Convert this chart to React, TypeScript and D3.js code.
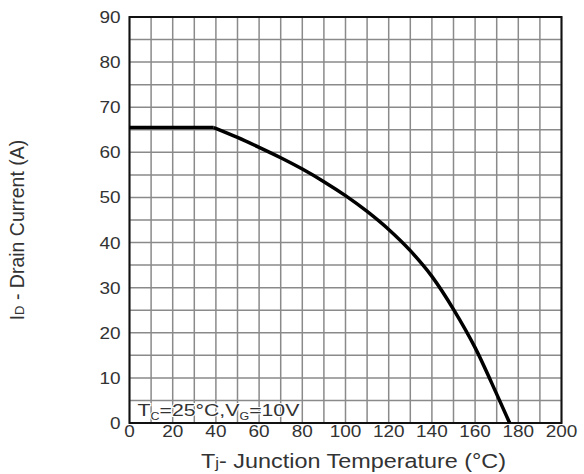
import React from "react";
import * as d3 from "d3";

const temps = [0, 39, 50, 60, 70, 80, 90, 100, 110, 120, 130, 140, 150, 160, 170, 176];
const current = [65.5, 65.5, 63.3, 61.1, 58.8, 56.3, 53.5, 50.4, 46.9, 42.9, 38.2, 32.5, 25.2, 16.7, 6.4, 0];
const xTicks = [0, 20, 40, 60, 80, 100, 120, 140, 160, 180, 200];
const yTicks = [0, 10, 20, 30, 40, 50, 60, 70, 80, 90];
const xGrid = d3.range(0, 201, 10);
const yGrid = d3.range(0, 91, 5);

const W = 584, H = 474;
const L = 129.5, R = 561.5, T = 17, B = 423;
const FONT = "'Liberation Sans', Arial, Helvetica, sans-serif";

export default function App() {
  const x = d3.scaleLinear().domain([0, 200]).range([L, R]);
  const y = d3.scaleLinear().domain([0, 90]).range([B, T]);
  const pts = temps.map((t, i) => [t, current[i]] as [number, number]);
  const flat = pts.slice(0, 2);
  const curve = pts.slice(1);
  const lineLin = d3.line<[number, number]>().x(d => x(d[0])).y(d => y(d[1]));
  const lineCurve = d3.line<[number, number]>().x(d => x(d[0])).y(d => y(d[1])).curve(d3.curveMonotoneX);
  const sx = 1.15;
  return (
    <svg width={W} height={H} style={{ position: "absolute", left: 0, top: 0 }}>
      <rect x={0} y={0} width={W} height={H} fill="#fff" />
      {xGrid.map(v => (
        <line key={"xg" + v} x1={x(v)} x2={x(v)} y1={T} y2={B} stroke="#8a8a8a" strokeWidth={1.5} />
      ))}
      {yGrid.map(v => (
        <line key={"yg" + v} x1={L} x2={R} y1={y(v)} y2={y(v)} stroke="#8a8a8a" strokeWidth={1.5} />
      ))}
      <rect x={L} y={T} width={R - L} height={B - T} fill="none" stroke="#111" strokeWidth={2} />
      <path d={lineLin(flat) || ""} fill="none" stroke="#000" strokeWidth={3.5} />
      <path d={lineCurve(curve) || ""} fill="none" stroke="#000" strokeWidth={3.5} strokeLinejoin="round" />
      <g fontFamily={FONT} fill="#333" fontSize={16.5}>
        {xTicks.map(v => (
          <text key={"xt" + v} transform={`translate(${x(v)},${B + 14}) scale(${sx},1)`} textAnchor="middle">{v}</text>
        ))}
        {yTicks.map(v => (
          <text key={"yt" + v} transform={`translate(${L - 9},${y(v) + 6}) scale(${sx},1)`} textAnchor="end">{v}</text>
        ))}
      </g>
      <text transform={`translate(${L + 8},${B - 7}) scale(1.25,1)`} fontFamily={FONT} fontSize={17} fill="#333"
        stroke="#fff" strokeWidth={2} paintOrder="stroke">
        T<tspan fontSize={10} dy={4}>C</tspan><tspan dy={-4}>=25°C,V</tspan><tspan fontSize={10} dy={4}>G</tspan><tspan dy={-4}>=10V</tspan>
      </text>
      <text transform={`translate(${(L + R) / 2 + 8},${H - 6}) scale(1.2,1)`} fontFamily={FONT} fontSize={19.5} fill="#333" textAnchor="middle">
        T<tspan fontSize={14}>j</tspan>- Junction Temperature (°C)
      </text>
      <text transform={`translate(24,${(T + B) / 2 + 10}) rotate(-90)`} fontFamily={FONT} fontSize={19.5} fill="#333" textAnchor="middle">
        I<tspan fontSize={13}>D</tspan> - Drain Current (A)
      </text>
    </svg>
  );
}
